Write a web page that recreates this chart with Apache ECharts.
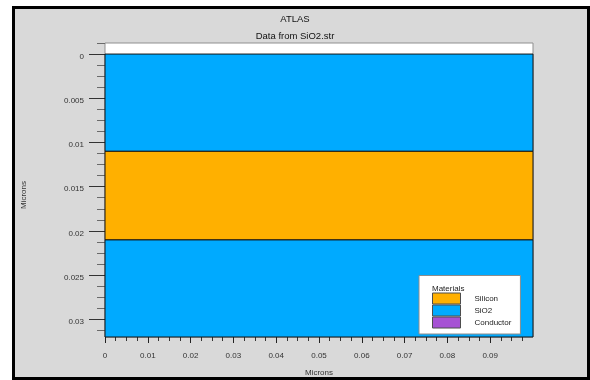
<!DOCTYPE html>
<html>
<head>
<meta charset="utf-8">
<script src="https://cdn.jsdelivr.net/npm/echarts@6/dist/echarts.min.js"></script>
<style>
  html, body { margin: 0; padding: 0; background: #ffffff; }
  #chart { width: 590px; height: 380px; }
</style>
</head>
<body>
<div id="chart"></div>
<script>
// Cross-section of the SiO2 / Si / SiO2 stack (depth and width in microns)
const materials = ['Silicon', 'SiO2', 'Conductor'];
const materialColors = ['#ffb000', '#00aaff', '#a652d4'];

// Each layer: [top depth, bottom depth]
const siliconLayers = [[0.011, 0.021]];
const oxideLayers = [[0, 0.011], [0.021, 0.032]];
const conductorLayers = [];

const xRange = [0, 0.1];
const yRange = [-0.00125, 0.032];

const xMajorTicks = [0, 0.01, 0.02, 0.03, 0.04, 0.05, 0.06, 0.07, 0.08, 0.09];
const xMinorTicks = [0.0025, 0.005, 0.0075, 0.0125, 0.015, 0.0175, 0.0225, 0.025, 0.0275,
  0.0325, 0.035, 0.0375, 0.0425, 0.045, 0.0475, 0.0525, 0.055, 0.0575, 0.0625, 0.065, 0.0675,
  0.0725, 0.075, 0.0775, 0.0825, 0.085, 0.0875, 0.0925, 0.095, 0.0975];
const yMajorTicks = [0, 0.005, 0.01, 0.015, 0.02, 0.025, 0.03];
const yMinorTicks = [-0.00125, 0.00125, 0.0025, 0.00375, 0.00625, 0.0075, 0.00875, 0.01125,
  0.0125, 0.01375, 0.01625, 0.0175, 0.01875, 0.02125, 0.0225, 0.02375, 0.02625, 0.0275,
  0.02875, 0.03125];

const FONT = '"Liberation Sans", Arial, sans-serif';
const tickText = v => String(parseFloat(Number(v).toFixed(5)));

// A layer spans the full width of the device between its two depths
function renderLayer(params, api) {
  const a = api.coord([xRange[0], api.value(0)]);
  const b = api.coord([xRange[1], api.value(1)]);
  return {
    type: 'rect',
    shape: { x: a[0], y: a[1], width: b[0] - a[0], height: b[1] - a[1] },
    style: { fill: api.visual('color'), stroke: '#141414', lineWidth: 1 }
  };
}

function layerSeries(name, color, data) {
  return {
    name: name,
    type: 'custom',
    xAxisIndex: 0,
    yAxisIndex: 0,
    renderItem: renderLayer,
    encode: { y: [0, 1] },
    itemStyle: { color: color },
    data: data,
    silent: true
  };
}

function hiddenAxisBase() {
  return {
    axisLine: { show: false, onZero: false },
    splitLine: { show: false }
  };
}

const chart = echarts.init(document.getElementById('chart'), null, { renderer: 'canvas' });

chart.setOption({
  animation: false,
  backgroundColor: '#ffffff',
  graphic: [{
    type: 'rect',
    z: -100,
    silent: true,
    shape: { x: 13.5, y: 7.5, width: 575, height: 371 },
    style: { fill: '#d9d9d9', stroke: '#000000', lineWidth: 3 }
  }],
  title: [{
    text: 'ATLAS',
    subtext: 'Data from SiO2.str',
    left: 'center',
    top: 14.5,
    padding: [0, 0, 0, 12],
    itemGap: 7,
    textStyle: { fontFamily: FONT, fontSize: 9.5, fontWeight: 'normal', color: '#111' },
    subtextStyle: { fontFamily: FONT, fontSize: 9.5, color: '#111' }
  }, {
    text: 'Materials',
    left: 432,
    top: 284.5,
    padding: 0,
    textStyle: { fontFamily: FONT, fontSize: 8, fontWeight: 'normal', color: '#222' }
  }],
  legend: {
    data: materials,
    orient: 'vertical',
    left: 419,
    top: 275.5,
    padding: [17, 9, 5.5, 13],
    itemWidth: 28,
    itemHeight: 11,
    itemGap: 0,
    icon: 'rect',
    selectedMode: false,
    backgroundColor: '#ffffff',
    borderColor: '#8c8c8c',
    borderWidth: 1,
    itemStyle: { borderColor: '#4d4d4d', borderWidth: 1 },
    textStyle: { fontFamily: FONT, fontSize: 8, color: '#222', lineHeight: 11, padding: [0, 0, 0, 9] }
  },
  grid: {
    left: 105,
    right: 57,
    top: 43,
    bottom: 43,
    show: true,
    backgroundColor: '#ffffff',
    borderColor: '#8f8f8f',
    borderWidth: 1,
    containLabel: false,
    outerBoundsMode: 'none'
  },
  xAxis: [
    Object.assign(hiddenAxisBase(), {
      type: 'value',
      position: 'bottom',
      min: xRange[0],
      max: xRange[1],
      axisTick: { show: true, customValues: xMajorTicks, length: 6, lineStyle: { color: '#222', width: 1 } },
      axisLabel: { customValues: xMajorTicks, margin: 15, fontFamily: FONT, fontSize: 8, color: '#333', formatter: tickText },
      name: 'Microns',
      nameLocation: 'middle',
      nameGap: 32,
      nameTextStyle: { fontFamily: FONT, fontSize: 8, color: '#333' }
    }),
    Object.assign(hiddenAxisBase(), {
      type: 'value',
      position: 'bottom',
      min: xRange[0],
      max: xRange[1],
      axisTick: { show: true, customValues: xMinorTicks, length: 4, lineStyle: { color: '#333', width: 1 } },
      axisLabel: { show: false }
    })
  ],
  yAxis: [
    Object.assign(hiddenAxisBase(), {
      type: 'value',
      position: 'left',
      inverse: true,
      min: yRange[0],
      max: yRange[1],
      axisTick: { show: true, customValues: yMajorTicks, length: 16, lineStyle: { color: '#333', width: 1 } },
      axisLabel: {
        customValues: yMajorTicks, margin: 21, fontFamily: FONT, fontSize: 8, color: '#333',
        verticalAlign: 'top', lineHeight: 5, formatter: tickText
      },
      name: 'Microns',
      nameLocation: 'middle',
      nameGap: 77,
      nameRotate: 90,
      nameTextStyle: { fontFamily: FONT, fontSize: 8, color: '#333', padding: [0, 10, 0, 0] }
    }),
    Object.assign(hiddenAxisBase(), {
      type: 'value',
      position: 'left',
      offset: 0,
      inverse: true,
      min: yRange[0],
      max: yRange[1],
      axisTick: { show: true, customValues: yMinorTicks, length: 8, lineStyle: { color: '#6a6a6a', width: 1 } },
      axisLabel: { show: false }
    })
  ],
  series: [
    layerSeries('SiO2', materialColors[1], oxideLayers),
    layerSeries('Silicon', materialColors[0], siliconLayers),
    layerSeries('Conductor', materialColors[2], conductorLayers)
  ]
});
</script>
</body>
</html>
